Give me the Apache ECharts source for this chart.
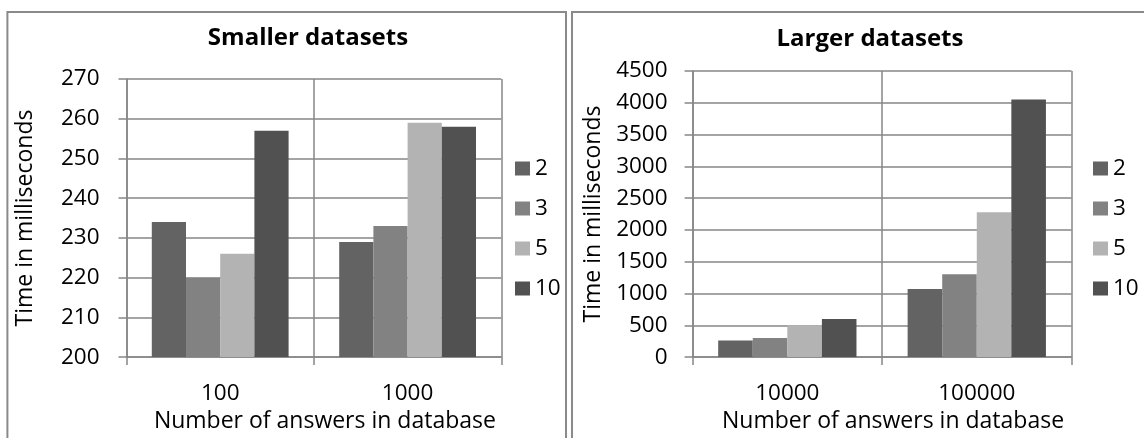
<!DOCTYPE html>
<html>
<head>
<meta charset="utf-8">
<script src="https://cdn.jsdelivr.net/npm/echarts@6/dist/echarts.min.js"></script>
<style>
html,body{margin:0;padding:0;background:#fff;}
#c{width:1144px;height:438px;}
</style>
</head>
<body>
<div id="c"></div>
<script>
const seriesNames = ['2', '3', '5', '10'];
const colors = ['#636363', '#828282', '#b3b3b3', '#515151'];

const smallCategories = ['100', '1000'];
const small2 = [234, 229];
const small3 = [220, 233];
const small5 = [226, 259];
const small10 = [257, 258];

const largeCategories = ['10000', '100000'];
const large2 = [260, 1070];
const large3 = [300, 1305];
const large5 = [500, 2280];
const large10 = [600, 4050];

const smallData = [small2, small3, small5, small10];
const largeData = [large2, large3, large5, large10];

const FONT = 'Open Sans';
const grey = '#868686';
const FS = 22.5;

function xAxis(idx, cats) {
  return {
    type: 'category', gridIndex: idx, data: cats,
    name: 'Number of answers in database', nameLocation: 'middle', nameGap: 52,
    nameTextStyle: {fontFamily: FONT, fontSize: 23, color: '#000', padding: [0, 0, 0, 22]},
    axisLine: {lineStyle: {color: grey, width: 1.5}},
    axisTick: {show: true, length: 8, lineStyle: {color: grey, width: 1.5}},
    axisLabel: {fontFamily: FONT, fontSize: FS, color: '#000', margin: 25},
    splitLine: {show: true, lineStyle: {color: grey, width: 1.5}}
  };
}
function yAxis(idx, min, max, interval, gap, margin) {
  return {
    type: 'value', gridIndex: idx, min: min, max: max, interval: interval,
    name: 'Time in milliseconds', nameLocation: 'middle', nameGap: gap,
    nameTextStyle: {fontFamily: FONT, fontSize: 23, color: '#000'},
    axisLine: {show: true, lineStyle: {color: grey, width: 1.5}},
    axisTick: {show: true, length: 8, lineStyle: {color: grey, width: 1.5}},
    axisLabel: {fontFamily: FONT, fontSize: FS, color: '#000', margin: margin,
      formatter: v => String(v)},
    splitLine: {show: true, lineStyle: {color: grey, width: 1.5}}
  };
}

const series = [];
seriesNames.forEach((n, i) => {
  series.push({name: n, type: 'bar', xAxisIndex: 0, yAxisIndex: 0, data: smallData[i],
    itemStyle: {color: colors[i]}, barGap: '0%', barCategoryGap: '27%'});
});
seriesNames.forEach((n, i) => {
  series.push({name: n, type: 'bar', xAxisIndex: 1, yAxisIndex: 1, data: largeData[i],
    itemStyle: {color: colors[i]}, barGap: '0%', barCategoryGap: '27%'});
});

const legendBase = {
  orient: 'vertical', itemWidth: 15, itemHeight: 14, itemGap: 17, icon: 'rect',
  textStyle: {fontFamily: FONT, fontSize: FS, color: '#000'}, data: seriesNames, selectedMode: false
};

const chart = echarts.init(document.getElementById('c'));
chart.setOption({
  animation: false,
  color: colors,
  title: [
    {text: 'Smaller datasets', left: 303, top: 21, textAlign: 'center',
     textStyle: {fontFamily: FONT, fontSize: 24, fontWeight: 'bold', color: '#000'}},
    {text: 'Larger datasets', left: 865, top: 22, textAlign: 'center',
     textStyle: {fontFamily: FONT, fontSize: 24, fontWeight: 'bold', color: '#000'}}
  ],
  grid: [
    {left: 126.5, right: 642.7, top: 79, bottom: 80.3},
    {left: 692.6, right: 72.5, top: 71, bottom: 79.7}
  ],
  xAxis: [xAxis(0, smallCategories), xAxis(1, largeCategories)],
  yAxis: [yAxis(0, 200, 270, 10, 90, 27), yAxis(1, 0, 4500, 500, 88, 25)],
  legend: [
    Object.assign({left: 510, top: 152}, legendBase),
    Object.assign({left: 1088, top: 152}, legendBase)
  ],
  graphic: [
    {type: 'rect', shape: {x: 7.4, y: 12, width: 558.6, height: 440}, style: {fill: 'none', stroke: '#8a8a8a', lineWidth: 2}},
    {type: 'rect', shape: {x: 572, y: 12, width: 650, height: 440}, style: {fill: 'none', stroke: '#8a8a8a', lineWidth: 2}}
  ],
  series: series
});
</script>
</body>
</html>
